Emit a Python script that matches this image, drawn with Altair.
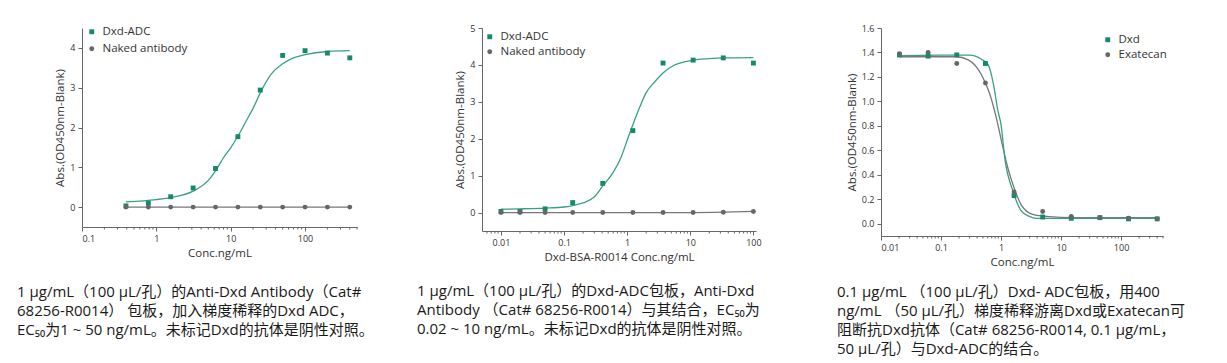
import altair as alt
import pandas as pd

# ---------------- data ----------------
# Panel 1: Anti-Dxd antibody coated, Dxd-ADC titration
p1_conc = [0.39, 0.78, 1.56, 3.125, 6.25, 12.5, 25, 50, 100, 200, 400]
p1_adc = [0.03, 0.10, 0.26, 0.48, 0.97, 1.77, 2.94, 3.81, 3.93, 3.87, 3.75]
p1_naked = [0.0, 0.0, 0.0, 0.0, 0.0, 0.0, 0.0, 0.0, 0.0, 0.0, 0.0]
p1_fit_x = [0.39, 1, 1.56, 3.125, 5, 6.25, 8, 10, 12.5, 16, 20, 25, 35, 50, 70, 100, 200, 400]
p1_fit_y = [0.13, 0.19, 0.24, 0.40, 0.67, 0.91, 1.24, 1.49, 1.78, 2.15, 2.48, 2.87, 3.34, 3.60, 3.75, 3.83, 3.91, 3.93]

# Panel 2: Dxd-ADC coated, Anti-Dxd antibody titration
p2_conc = [0.01, 0.02, 0.05, 0.137, 0.41, 1.23, 3.7, 11.1, 33.3, 100]
p2_adc = [0.03, 0.03, 0.10, 0.27, 0.79, 2.22, 4.05, 4.13, 4.19, 4.05]
p2_naked = [0.0, 0.0, 0.0, 0.0, 0.0, 0.0, 0.0, 0.0, 0.01, 0.03]
p2_fit_x = [0.01, 0.02, 0.05, 0.1, 0.137, 0.2, 0.3, 0.41, 0.6, 0.8, 1.0, 1.23, 1.6, 2.0, 2.7, 3.7, 5.5, 8, 11.1, 20, 33.3, 100]
p2_fit_y = [0.09, 0.10, 0.12, 0.15, 0.19, 0.26, 0.42, 0.72, 1.09, 1.50, 1.96, 2.38, 2.88, 3.25, 3.53, 3.78, 3.99, 4.08, 4.13, 4.17, 4.19, 4.20]

# Panel 3: competition with free Dxd / Exatecan
p3_conc = [0.0203, 0.061, 0.183, 0.55, 1.65, 4.94, 14.8, 44.4, 133.3, 400]
p3_dxd = [1.38, 1.37, 1.38, 1.31, 0.23, 0.055, 0.045, 0.05, 0.04, 0.04]
p3_exa = [1.39, 1.40, 1.31, 1.15, 0.26, 0.10, 0.06, 0.05, 0.045, 0.04]
p3_dxd_fit_x = [0.0203, 0.1, 0.3, 0.47, 0.61, 0.755, 0.89, 1.0, 1.16, 1.6, 2.14, 2.9, 3.9, 10, 400]
p3_dxd_fit_y = [1.375, 1.378, 1.378, 1.345, 1.30, 1.13, 0.92, 0.81, 0.53, 0.26, 0.11, 0.063, 0.044, 0.044, 0.044]
p3_exa_fit_x = [0.0203, 0.18, 0.284, 0.47, 0.65, 0.84, 1.08, 1.31, 1.69, 2.17, 3.39, 6.4, 15.2, 400]
p3_exa_fit_y = [1.365, 1.365, 1.34, 1.22, 1.06, 0.86, 0.62, 0.45, 0.28, 0.155, 0.077, 0.058, 0.05, 0.05]

# axis ticks
p1_xticks = [0.1, 1, 10, 100]
p2_xticks = [0.01, 0.1, 1, 10, 100]
p3_xticks = [0.01, 0.1, 1, 10, 100]
p1_yticks = [0, 1, 2, 3, 4]
p2_yticks = [0, 1, 2, 3, 4, 5]
p3_yticks = [0.0, 0.2, 0.4, 0.6, 0.8, 1.0, 1.2, 1.4, 1.6]
p1_minor = [0.2, 0.3, 0.4, 0.5, 0.6, 0.7, 0.8, 0.9, 2, 3, 4, 5, 6, 7, 8, 9,
            20, 30, 40, 50, 60, 70, 80, 90, 200, 300, 400, 500]
p2_minor = [0.006, 0.007, 0.008, 0.009, 0.02, 0.03, 0.04, 0.05, 0.06, 0.07, 0.08, 0.09,
            0.2, 0.3, 0.4, 0.5, 0.6, 0.7, 0.8, 0.9, 2, 3, 4, 5, 6, 7, 8, 9,
            20, 30, 40, 50, 60, 70, 80, 90]
p3_minor = [0.02, 0.03, 0.04, 0.05, 0.06, 0.07, 0.08, 0.09,
            0.2, 0.3, 0.4, 0.5, 0.6, 0.7, 0.8, 0.9, 2, 3, 4, 5, 6, 7, 8, 9,
            20, 30, 40, 50, 60, 70, 80, 90, 200, 300, 400, 500]

cap1 = ["1 μg/mL（100 μL/孔）的Anti-Dxd Antibody（Cat#",
        "68256-R0014） 包板，加入梯度稀释的Dxd ADC，",
        "EC₅₀为1 ~ 50 ng/mL。未标记Dxd的抗体是阴性对照。"]
cap2 = ["1 μg/mL（100 μL/孔）的Dxd-ADC包板，Anti-Dxd",
        "Antibody （Cat# 68256-R0014）与其结合，EC₅₀为",
        "0.02 ~ 10 ng/mL。未标记Dxd的抗体是阴性对照。"]
cap3 = ["0.1 μg/mL （100 μL/孔）Dxd- ADC包板，用400",
        "ng/mL （50 μL/孔）梯度稀释游离Dxd或Exatecan可",
        "阻断抗Dxd抗体（Cat# 68256-R0014, 0.1 μg/mL，",
        "50 μL/孔）与Dxd-ADC的结合。"]

# ---------------- style ----------------
TEAL = "#17896b"
TEAL_LINE = "#3a9f86"
GRAY = "#666666"
GRAY_LINE = "#777777"
AXIS = "#666666"
FONT = "Open Sans"
CAP_FONT = "Open Sans, Noto Sans CJK SC, DejaVu Sans"


def panel(conc, series, fits, xdom, ydom, xticks, yticks, yfmt, minor, xtitle,
          sfield, legend_xy, row_pad, width, height, caption, cap_dx, cap_offset):
    names = [s[0] for s in series]
    rows = []
    for name, vals in series:
        for xv, yv in zip(conc, vals):
            rows.append({"x": xv, "y": yv, sfield: name})
    pts = pd.DataFrame(rows)

    xs = alt.Scale(type="log", domain=xdom, nice=False)
    ys = alt.Scale(domain=ydom, nice=False, zero=False)
    xaxis = alt.Axis(values=xticks, format="~g", title=xtitle, grid=False)
    yaxis = alt.Axis(values=yticks, format=yfmt, title="Abs.(OD450nm-Blank)", grid=False)

    layers = []
    for fx, fy, col in fits:
        df = pd.DataFrame({"x": fx, "y": fy})
        layers.append(
            alt.Chart(df).mark_line(color=col, strokeWidth=1.3, interpolate="monotone").encode(
                x=alt.X("x:Q", scale=xs, axis=xaxis),
                y=alt.Y("y:Q", scale=ys, axis=yaxis),
            )
        )
    leg = alt.Legend(title=None, orient="none", legendX=legend_xy[0], legendY=legend_xy[1],
                     labelFont=FONT, labelFontSize=11.5, labelColor="#333333",
                     symbolSize=24, rowPadding=row_pad, labelOffset=5, padding=0)
    layers.append(
        alt.Chart(pts).mark_point(filled=True, size=24, opacity=1).encode(
            x=alt.X("x:Q", scale=xs, axis=xaxis),
            y=alt.Y("y:Q", scale=ys, axis=yaxis),
            color=alt.Color(f"{sfield}:N", scale=alt.Scale(domain=names, range=[TEAL, GRAY]), legend=leg),
            shape=alt.Shape(f"{sfield}:N", scale=alt.Scale(domain=names, range=["square", "circle"]), legend=leg),
        )
    )
    layers.append(
        alt.Chart(pd.DataFrame({"v": minor})).mark_rule(color=AXIS, strokeWidth=1).encode(
            x=alt.X("v:Q", scale=xs, axis=xaxis),
            y=alt.value(height),
            y2=alt.value(height + 2.5),
        )
    )
    return alt.layer(*layers).properties(
        width=width,
        height=height,
        title=alt.TitleParams(text=caption, orient="bottom", anchor="start", frame="group",
                              dx=cap_dx, offset=cap_offset, font=CAP_FONT, fontSize=15,
                              fontWeight="normal", color="#1a1a1a", lineHeight=19),
    )


c1 = panel(p1_conc, [("Dxd-ADC", p1_adc), ("Naked antibody", p1_naked)],
           [(p1_conc, p1_naked, GRAY_LINE), (p1_fit_x, p1_fit_y, TEAL_LINE)],
           [0.1, 500], [-0.5, 4.5], p1_xticks, p1_yticks, "d", p1_minor, "Conc.ng/mL",
           "s1", (4, -2), 4, 275, 199, cap1, -65, 26)
c2 = panel(p2_conc, [("Dxd-ADC", p2_adc), ("Naked antibody", p2_naked)],
           [(p2_conc, p2_naked, GRAY_LINE), (p2_fit_x, p2_fit_y, TEAL_LINE)],
           [0.005, 110], [-0.5, 5], p2_xticks, p2_yticks, "d", p2_minor, "Dxd-BSA-R0014 Conc.ng/mL",
           "s2", (2, 3), 2, 274, 203, cap2, -65, 21)
c3 = panel(p3_conc, [("Dxd", p3_dxd), ("Exatecan", p3_exa)],
           [(p3_exa_fit_x, p3_exa_fit_y, GRAY_LINE), (p3_dxd_fit_x, p3_dxd_fit_y, TEAL_LINE)],
           [0.01, 500], [-0.1, 1.6], p3_xticks, p3_yticks, ".1f", p3_minor, "Conc.ng/mL",
           "s3", (221, 6), 2, 282, 208, cap3, -44, 17)

chart = (
    alt.hconcat(c1, c2, c3, spacing=125, bounds="flush")
    .resolve_scale(color="independent", shape="independent")
    .properties(padding={"left": 9, "top": 16, "right": 0, "bottom": 0})
    .configure_view(stroke=None)
    .configure_axis(
        domainColor=AXIS, tickColor=AXIS, labelColor="#333333", titleColor="#333333",
        labelFont=FONT, titleFont=FONT, labelFontSize=9, titleFontSize=11.5,
        titleFontWeight="normal", tickSize=4, labelPadding=3,
    )
)

chart.save("out.html", embed_options={"renderer": "svg", "actions": False})
